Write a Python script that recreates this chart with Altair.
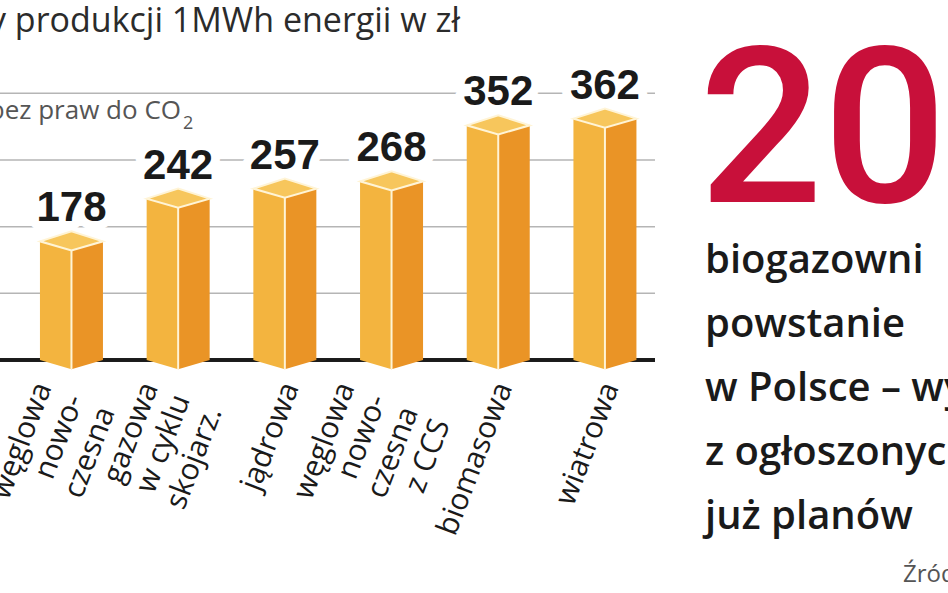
import altair as alt
import pandas as pd

# ---- data ----
categories = ["węglowa nowoczesna", "gazowa w cyklu skojarz.", "jądrowa",
              "węglowa nowoczesna z CCS", "biomasowa", "wiatrowa"]
cat_labels = ["węglowa\nnowo-\nczesna", "gazowa\nw cyklu\nskojarz.", "jądrowa",
              "węglowa\nnowo-\nczesna\nz CCS", "biomasowa", "wiatrowa"]
values = [178, 242, 257, 268, 352, 362]
grid_values = [100, 200, 300, 400]

title_text = "Koszty produkcji 1MWh energii w zł"
subtitle_text = "bez praw do CO"
subtitle_sub = "2"
big_number = "200"
body_text = "biogazowni\npowstanie\nw Polsce – wynika\nz ogłoszonych\njuż planów"
source_text = "Źródło:"

df = pd.DataFrame({"cat": categories, "label": cat_labels, "value": values})
grid_df = pd.DataFrame({"v": grid_values})

# ---- styling ----
LEFT = "#F3B43F"
RIGHT = "#EA9426"
TOP = "#F7C65C"

xscale = alt.Scale(domain=categories, range=[0, 655], paddingInner=0.4,
                   paddingOuter=0.2695, align=0.686)
yscale = alt.Scale(domain=[0, 400], range=[360, 93.33], nice=False, zero=True)

X = alt.X("cat:N", scale=xscale, axis=None, sort=categories)
Y = alt.Y("value:Q", scale=yscale, axis=None)

base = alt.Chart(df)

grid = alt.Chart(grid_df).mark_rule(color="#b5b5b5", strokeWidth=1.5).encode(
    y=alt.Y("v:Q", scale=yscale, axis=None),
    x=alt.value(0), x2=alt.value(655))

halo = base.mark_text(font="Liberation Sans", fontWeight="bold", fontSize=42,
                      dy=-20, baseline="alphabetic", color="white",
                      stroke="white", strokeWidth=18, strokeJoin="round").encode(
    x=X, y=Y, text="value:Q")

baseline = base.mark_rule(color="#1a1a1a", strokeWidth=3).encode(
    y=alt.Y(datum=0, scale=yscale, axis=None), x=alt.value(0), x2=alt.value(655))

left_face = base.mark_bar(size=31.5, xOffset=-15.75, color=LEFT).encode(x=X, y=Y)
right_face = base.mark_bar(size=31.5, xOffset=15.75, color=RIGHT).encode(x=X, y=Y)

tri_left = base.mark_point(shape="M -1 0 L 0 0 L 0 0.29 Z", size=3969, filled=True,
                           fill=LEFT, opacity=1, strokeWidth=0).encode(
    x=X, y=alt.Y(datum=0, scale=yscale, axis=None))
tri_right = base.mark_point(shape="M 0 0 L 1 0 L 0 0.29 Z", size=3969, filled=True,
                            fill=RIGHT, opacity=1, strokeWidth=0).encode(
    x=X, y=alt.Y(datum=0, scale=yscale, axis=None))

edge = base.mark_rule(color="#FFF4D6", strokeWidth=2, y2Offset=9).encode(
    x=X, y=Y, y2=alt.Y2(datum=0))

top = base.mark_point(shape="M -1 0 L 0 -0.32 L 1 0 L 0 0.29 Z", size=3969,
                      filled=True, fill=TOP, opacity=1, stroke="#FFF4D6",
                      strokeWidth=2).encode(x=X, y=Y)

value_text = base.mark_text(font="Liberation Sans", fontWeight="bold", fontSize=42,
                            dy=-20, baseline="alphabetic", color="#1a1a1a").encode(
    x=X, y=Y, text="value:Q")

cat_text = base.mark_text(
    angle=291, align="right", baseline="middle", lineBreak="\n",
    font="Open Sans", fontSize=30, lineHeight=34,
    xOffset=alt.expr("6 - 17 * (length(split(datum.label, '\\n')) - 1)"),
    color="#1a1a1a").encode(
    x=X, y=alt.value(384), text="label:N")

def text_layer(txt, **kw):
    x = kw.pop("x")
    y = kw.pop("y")
    return alt.Chart(pd.DataFrame({"t": [txt]})).mark_text(**kw).encode(
        x=alt.value(x), y=alt.value(y), text="t:N")

title = text_layer(title_text, x=460, y=32, align="right", baseline="alphabetic",
                   font="Open Sans", fontSize=34, color="#2b2b2b")
subtitle = text_layer(subtitle_text, x=181, y=119, align="right", baseline="alphabetic",
                      font="Open Sans", fontSize=26, color="#555555")
subtitle2 = text_layer(subtitle_sub, x=183, y=129, align="left", baseline="alphabetic",
                       font="Open Sans", fontSize=18, color="#555555")
bignum = text_layer(big_number, x=699, y=202, align="left", baseline="alphabetic",
                    font="Roboto", fontWeight=500, fontSize=218, color="#C8103A")
body = text_layer(body_text, x=705, y=241, align="left", baseline="top", lineBreak="\n",
                  lineHeight=64, font="Open Sans", fontWeight=600, fontSize=40,
                  color="#1a1a1a")
source = text_layer(source_text, x=903, y=582, align="left", baseline="alphabetic",
                    font="Open Sans", fontSize=24, color="#555555")

chart = alt.layer(
    grid, halo, baseline, left_face, right_face, tri_left, tri_right, edge, top,
    value_text, cat_text, title, subtitle, subtitle2, bignum, body, source
).properties(
    width=948, height=593, padding=0,
    autosize=alt.AutoSizeParams(type="none"),
    background="white",
).configure_view(stroke=None)

chart.save("out.html", embed_options={"renderer": "svg", "actions": False})
